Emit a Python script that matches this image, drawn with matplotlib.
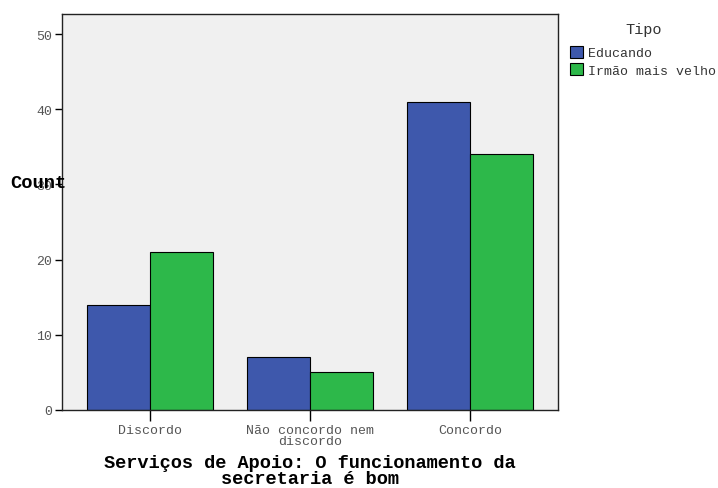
import numpy as np
import matplotlib.pyplot as plt
from matplotlib.patches import Patch

categories = ['Discordo', 'Não concordo nem\ndiscordo', 'Concordo']
educando = [14, 7, 41]
irmao = [21, 5, 34]
series_names = ['Educando', 'Irmão mais velho']
colors = ['#3e58ac', '#2db84a']

plt.rcParams['font.family'] = ['Liberation Mono', 'DejaVu Sans Mono']

fig = plt.figure(figsize=(7.18, 4.89), dpi=100)
ax = fig.add_axes([62/718, 78/489, 496/718, 396/489])
ax.set_facecolor('#f0f0f0')

x = np.arange(len(categories))
w = 0.39375
ax.bar(x - w/2, educando, w, color=colors[0], edgecolor='black', linewidth=0.8)
ax.bar(x + w/2, irmao, w, color=colors[1], edgecolor='black', linewidth=0.8)

ax.set_xlim(-0.55, 2.55)
ax.set_ylim(0, 52.66)
ax.set_yticks([0, 10, 20, 30, 40, 50])
ax.set_xticks(x)
ax.set_xticklabels(categories, fontsize=9.5, color='#555555', linespacing=0.9)
ax.tick_params(axis='y', labelsize=9.5, labelcolor='#555555', length=5, width=1, pad=2)
ax.tick_params(axis='x', length=8, width=1, pad=2)
for s in ax.spines.values():
    s.set_color('#222222')
    s.set_linewidth(1)

fig.text(10/718, 1 - 184/489, 'Count', fontsize=13.5, fontweight='bold', va='center', ha='left')
ax.set_xlabel('Serviços de Apoio: O funcionamento da\nsecretaria é bom', fontsize=13.4,
              fontweight='bold', linespacing=0.95, labelpad=5)

fig.text(644/718, 1 - 30/489, 'Tipo', fontsize=11, ha='center', va='center', color='#333333')
handles = [Patch(facecolor=c, edgecolor='black', linewidth=0.8) for c in colors]
leg = fig.legend(handles, series_names, loc='upper left',
                 bbox_to_anchor=(561/718, 1 - 38/489), frameon=False, fontsize=9.5,
                 handlelength=0.95, handleheight=1.0,
                 handletextpad=0.38, labelspacing=0.28, borderpad=0.18)
for t in leg.get_texts():
    t.set_color('#333333')

fig.savefig('out.png', dpi=100)
